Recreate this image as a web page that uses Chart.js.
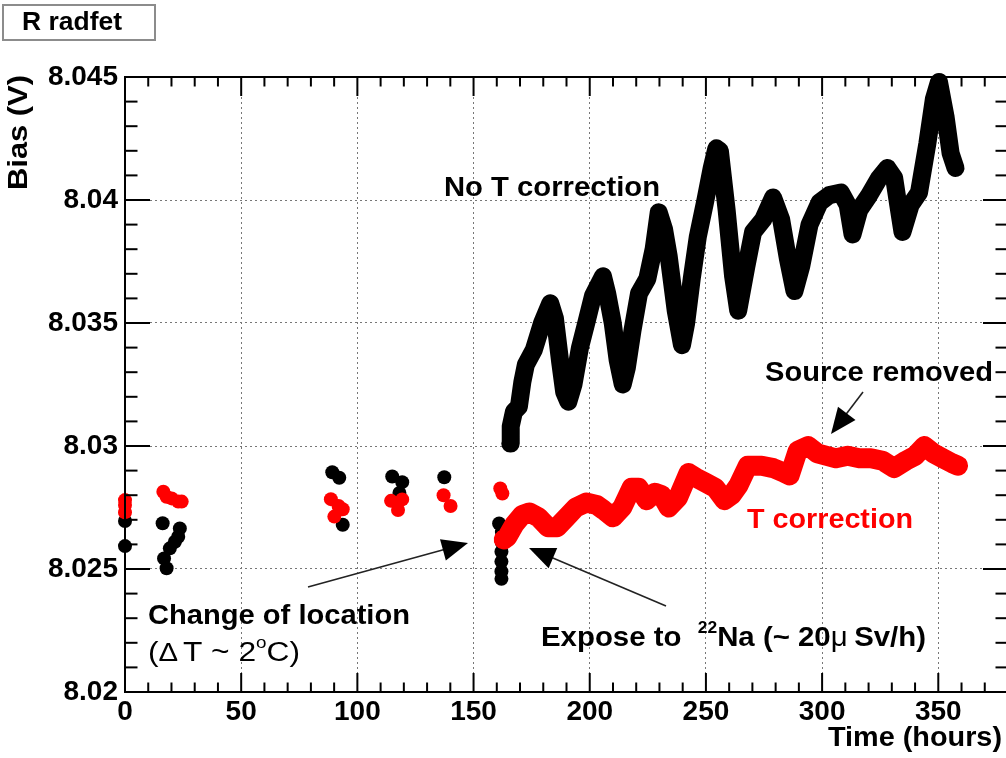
<!DOCTYPE html>
<html><head><meta charset="utf-8">
<script src="https://cdn.jsdelivr.net/npm/chart.js@4.4.0/dist/chart.umd.min.js"></script>
<style>html,body{margin:0;padding:0;background:#fff;overflow:hidden;width:1006px;height:758px}canvas{display:block}</style>
</head><body>
<canvas id="c" width="1015" height="758"></canvas>
<script>
// ---- data ----
const noCorrTrendTime = [165.8,166.0,167.4,169.5,171.0,172.5,175.9,179.5,183.0,185.0,187.3,189.0,190.8,193.0,195.8,198.5,201.4,205.7,207.5,209.9,212.0,214.2,216.0,218.4,221.2,224.8,227.5,229.7,232.0,234.0,237.0,239.7,241.5,243.9,246.5,249.6,252.5,254.5,256.0,258.9,261.7,263.9,267.4,270.3,274.6,278.9,282.4,285.3,288.1,291.0,294.6,298.9,303.1,308.1,311.0,313.1,316.0,320.3,324.6,328.1,331.0,333.1,334.6,338.1,341.7,345.3,348.1,350.3,353.1,355.3,357.4];
const noCorrTrendBias = [8.0301,8.0308,8.0314,8.0316,8.0326,8.0333,8.0339,8.0350,8.0358,8.0352,8.0334,8.0322,8.0318,8.0325,8.0340,8.0350,8.0361,8.0369,8.0362,8.0350,8.0335,8.0325,8.0332,8.0347,8.0362,8.0368,8.0380,8.0395,8.0388,8.0377,8.0355,8.0341,8.0350,8.0368,8.0385,8.0399,8.0413,8.0421,8.0420,8.0396,8.0369,8.0355,8.0373,8.0387,8.0392,8.0401,8.0392,8.0376,8.0363,8.0373,8.0390,8.0399,8.0402,8.0403,8.0398,8.0386,8.0396,8.0402,8.0409,8.0413,8.0409,8.0396,8.0387,8.0398,8.0403,8.0423,8.0441,8.0448,8.0434,8.0419,8.0413];
const noCorrEarlyTime = [0,0,16.2,16.8,17.9,19.3,21.5,22.9,23.6,89.2,92.2,93.7,115.0,118.1,119.3,137.4,161.0,162.2,162.1,162.0,162.0,162.0,162.0];
const noCorrEarlyBias = [8.02695,8.02593,8.02686,8.02543,8.02503,8.02584,8.02611,8.02631,8.02665,8.02893,8.02871,8.0268,8.02876,8.02809,8.02853,8.02873,8.02685,8.0265,8.0261,8.0257,8.0253,8.0249,8.0246];
const tCorrTrendTime = [163.0,164.5,167.5,171,174,178,182,186,190,194,198.5,203,206,210,214,218,221,224.5,228,231,234,238,242.5,246,250,254,258,261,264,268,274,279,284,286,289.5,294,298,302,306,311,316,321,326,331,336,340,344,348,352,356,358.5];
const tCorrTrendBias = [8.0262,8.0263,8.0268,8.0272,8.0273,8.0271,8.0267,8.0267,8.0271,8.0275,8.0277,8.0276,8.0274,8.0271,8.0275,8.0283,8.0283,8.0278,8.0281,8.0280,8.0275,8.0279,8.0289,8.0287,8.0285,8.0283,8.0278,8.0280,8.0284,8.0292,8.0292,8.0291,8.0289,8.0288,8.0298,8.0300,8.0297,8.0296,8.0295,8.0296,8.0295,8.0295,8.0294,8.0291,8.0294,8.0296,8.0300,8.0297,8.0295,8.0293,8.0292];
const tCorrEarlyTime = [0,0,0,16.5,17.9,20.1,22.9,24.4,88.6,90.1,91.9,93.7,114.5,117.5,119.3,137.1,140.1,161.5,162.4];
const tCorrEarlyBias = [8.0278,8.0276,8.0273,8.02814,8.02794,8.02787,8.02774,8.02774,8.02784,8.02713,8.02756,8.02743,8.02777,8.0274,8.02783,8.028,8.02756,8.02827,8.02807];
const xTickValues = [0,50,100,150,200,250,300,350];
const yTickValues = [8.02,8.025,8.03,8.035,8.04,8.045];

// ---- helpers ----
const pts = (ts, vs) => ts.map((t, i) => ({x: t, y: vs[i]}));
const RED = 'rgb(255,0,0)';
const FAM = "'Liberation Sans', Arial, Helvetica, sans-serif";

function fitText(ctx, s, x, y, width, font, color, rot) {
  ctx.save();
  ctx.font = font; ctx.fillStyle = color || '#000';
  ctx.textBaseline = 'middle'; ctx.textAlign = 'left';
  const w = ctx.measureText(s).width;
  ctx.translate(x, y);
  if (rot) ctx.rotate(rot);
  ctx.scale(width / w, 1);
  ctx.fillText(s, 0, 0);
  ctx.restore();
}
function runText(ctx, x, y, width, runs) {
  ctx.save();
  ctx.textBaseline = 'middle'; ctx.textAlign = 'left';
  let total = 0;
  for (const r of runs) { ctx.font = r.font; total += ctx.measureText(r.t).width + (r.gap || 0); }
  ctx.translate(x, y); ctx.scale(width / total, 1);
  let cx = 0;
  for (const r of runs) {
    ctx.font = r.font; ctx.fillStyle = r.color || '#000';
    ctx.fillText(r.t, cx, r.dy || 0);
    cx += ctx.measureText(r.t).width + (r.gap || 0);
  }
  ctx.restore();
}
function arrow(ctx, x0, y0, x1, y1) {
  const dx = x1 - x0, dy = y1 - y0, L = Math.hypot(dx, dy), ux = dx / L, uy = dy / L;
  const hl = 26, hw = 11;
  ctx.save();
  ctx.strokeStyle = '#222'; ctx.lineWidth = 1.6;
  ctx.beginPath(); ctx.moveTo(x0, y0); ctx.lineTo(x1 - ux * hl * 0.8, y1 - uy * hl * 0.8); ctx.stroke();
  ctx.fillStyle = '#000';
  ctx.beginPath();
  ctx.moveTo(x1, y1);
  ctx.lineTo(x1 - ux * hl - uy * hw, y1 - uy * hl + ux * hw);
  ctx.lineTo(x1 - ux * hl + uy * hw, y1 - uy * hl - ux * hw);
  ctx.closePath(); ctx.fill();
  ctx.restore();
}

const framePlugin = {
  id: 'frame',
  afterDatasetsDraw(chart) {
    const ctx = chart.ctx, a = chart.chartArea, xs = chart.scales.x, ys = chart.scales.y;
    ctx.save();
    ctx.strokeStyle = '#000'; ctx.lineWidth = 2;
    const line = (x0, y0, x1, y1) => { ctx.beginPath(); ctx.moveTo(x0, y0); ctx.lineTo(x1, y1); ctx.stroke(); };
    for (let k = 0; k <= 38; k++) {
      const px = xs.getPixelForValue(k * 10);
      const L = k % 5 === 0 ? 19 : 9.5;
      line(px, a.bottom, px, a.bottom - L);
      line(px, a.top, px, a.top + L);
    }
    for (let k = 0; k <= 25; k++) {
      const py = ys.getPixelForValue(ys.min + k * 0.001);
      const L = k % 5 === 0 ? 25 : 12.5;
      line(a.left, py, a.left + L, py);
      line(a.right, py, a.right - L, py);
    }
    ctx.strokeRect(a.left, a.top, a.right - a.left, a.bottom - a.top);
    ctx.restore();

    const B = s => 'bold ' + s + 'px ' + FAM;
    const N = s => s + 'px ' + FAM;
    // title box
    ctx.save();
    ctx.fillStyle = '#fff'; ctx.fillRect(3, 5, 152, 35);
    ctx.strokeStyle = '#8c8c8c'; ctx.lineWidth = 2; ctx.strokeRect(3, 5, 152, 35);
    ctx.restore();
    fitText(ctx, 'R radfet', 22, 23, 100, B(26));
    // axis titles
    fitText(ctx, 'Bias (V)', 20, 190, 115, B(27), '#000', -Math.PI / 2);
    fitText(ctx, 'Time (hours)', 828, 739, 174, B(27));
    // annotations
    fitText(ctx, 'No T correction', 444, 189, 216, B(27));
    fitText(ctx, 'Source removed', 765, 374, 228, B(27));
    fitText(ctx, 'T correction', 747, 521, 166, B(27), RED);
    fitText(ctx, 'Change of location', 148, 617, 262, B(27));
    runText(ctx, 148, 654, 152, [
      {t: '(', font: N(27)}, {t: '\u0394', font: N(25), gap: 4}, {t: 'T ~ 2', font: N(27)},
      {t: 'o', font: N(16), dy: -10}, {t: 'C)', font: N(27)}
    ]);
    runText(ctx, 541, 639, 385, [
      {t: 'Expose to  ', font: B(27)}, {t: '22', font: B(16), dy: -10}, {t: 'Na (~ 20', font: B(27)},
      {t: '\u03bc', font: N(27), gap: 6}, {t: 'Sv/h)', font: B(27)}
    ]);
    arrow(ctx, 308, 587, 468, 543);
    arrow(ctx, 666, 606, 529, 548);
    arrow(ctx, 863, 392, 831, 434);
  }
};

const tickFont = {family: FAM, weight: 'bold', size: 28};
new Chart(document.getElementById('c'), {
  type: 'scatter',
  data: {datasets: [
    {label: 'T correction', data: pts(tCorrTrendTime, tCorrTrendBias), showLine: true, borderColor: RED,
     backgroundColor: RED, borderWidth: 20, pointRadius: 0, borderJoinStyle: 'round', borderCapStyle: 'round', clip: false},
    {label: 'T correction (early)', data: pts(tCorrEarlyTime, tCorrEarlyBias), showLine: false,
     backgroundColor: RED, borderWidth: 0, pointRadius: 7, clip: false},
    {label: 'No T correction', data: pts(noCorrTrendTime, noCorrTrendBias), showLine: true, borderColor: '#000',
     backgroundColor: '#000', borderWidth: 18, pointRadius: 0, borderJoinStyle: 'round', borderCapStyle: 'round', clip: false},
    {label: 'No T correction (early)', data: pts(noCorrEarlyTime, noCorrEarlyBias), showLine: false,
     backgroundColor: '#000', borderWidth: 0, pointRadius: 7, clip: false}
  ]},
  options: {
    responsive: false, animation: false, events: [],
    layout: {padding: {top: 77, right: 6, left: 0, bottom: 0}},
    plugins: {legend: {display: false}, tooltip: {enabled: false}},
    scales: {
      x: {
        type: 'linear', min: 0, max: 380,
        afterFit(s) { s.height = 66; },
        afterBuildTicks(s) { s.ticks = xTickValues.map(v => ({value: v})); },
        ticks: {font: tickFont, color: '#000', padding: 3, maxRotation: 0, autoSkip: false},
        grid: {color: '#777', lineWidth: 1, drawTicks: false},
        border: {display: false, dash: [2, 3]}
      },
      y: {
        min: 8.02, max: 8.045,
        afterFit(s) { s.width = 125; },
        afterBuildTicks(s) { s.ticks = yTickValues.map(v => ({value: v})); },
        ticks: {font: tickFont, color: '#000', padding: 7, callback: v => String(parseFloat(Number(v).toFixed(3)))},
        grid: {color: '#777', lineWidth: 1, drawTicks: false},
        border: {display: false, dash: [2, 3]}
      }
    }
  },
  plugins: [framePlugin]
});
</script>
</body></html>
